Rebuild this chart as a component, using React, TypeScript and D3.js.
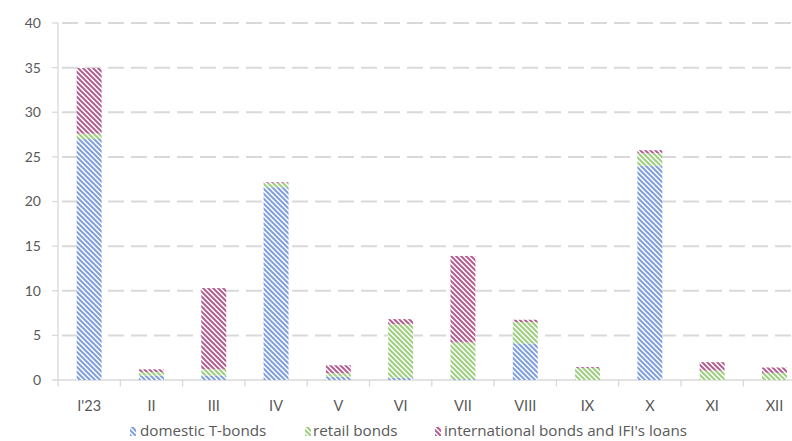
import React from "react";
import * as d3 from "d3";

const categories = ["I'23", "II", "III", "IV", "V", "VI", "VII", "VIII", "IX", "X", "XI", "XII"];
const domesticTBonds = [27.0, 0.5, 0.5, 21.6, 0.37, 0.25, 0.1, 4.1, 0, 24.0, 0, 0];
const retailBonds = [0.6, 0.4, 0.7, 0.45, 0.38, 6.0, 4.1, 2.4, 1.35, 1.4, 1.05, 0.8];
const intlBonds = [7.35, 0.3, 9.1, 0.1, 0.9, 0.57, 9.7, 0.25, 0.1, 0.35, 0.95, 0.6];
const yTicks = [0, 5, 10, 15, 20, 25, 30, 35, 40];

const seriesNames = ["domestic T-bonds", "retail bonds", "international bonds and IFI's loans"];
const seriesColors = ["#7f9fe0", "#9dcf7e", "#b25f90"];

const W = 792;
const H = 441;
const FONT = "Lato, 'Liberation Sans', sans-serif";
const LEGEND_FONT = "'Open Sans', Lato, sans-serif";

export default function App() {
  const x = d3.scaleBand<string>().domain(categories).range([58, 805.6]).paddingInner(0.6).paddingOuter(0.3);
  const y = d3.scaleLinear().domain([0, 40]).range([380, 23]);

  const rows = categories.map((c, i) => ({
    cat: c,
    s0: domesticTBonds[i],
    s1: retailBonds[i],
    s2: intlBonds[i],
  }));
  const stack = d3.stack<any>().keys(["s0", "s1", "s2"]);
  const layers = stack(rows);

  const boundaries = d3.range(categories.length + 1).map((i) => 58 + i * x.step());

  const legendItems = [
    { iconX: 130, textX: 140 },
    { iconX: 305, textX: 313 },
    { iconX: 435, textX: 444 },
  ];

  return (
    <svg
      width={W}
      height={H}
      style={{ position: "absolute", left: 0, top: 0, background: "#fff" }}
      fontFamily={FONT}
    >
      <defs>
        {seriesColors.map((col, i) => (
          <pattern key={i} id={`pat${i}`} patternUnits="userSpaceOnUse" width={5} height={5}>
            <rect width={5} height={5} fill="#fff" />
            <path
              d="M-1.25,3.75 l2.5,2.5 M0,0 l5,5 M3.75,-1.25 l2.5,2.5"
              stroke={col}
              strokeWidth={2}
            />
          </pattern>
        ))}
      </defs>
      <rect width={W} height={H} fill="#fff" />
      {/* gridlines */}
      {yTicks.map((t) =>
        t === 0 ? null : (
          <g key={t}>
            <line x1={52} x2={58} y1={y(t)} y2={y(t)} stroke="#d9d9d9" strokeWidth={1.3} />
            <line
              x1={62}
              x2={W}
              y1={y(t)}
              y2={y(t)}
              stroke="#d9d9d9"
              strokeWidth={2}
              strokeDasharray="16 7"
            />
          </g>
        )
      )}
      {/* y axis line */}
      <line x1={58} x2={58} y1={y(40)} y2={y(0)} stroke="#d9d9d9" strokeWidth={1.3} />
      {/* baseline */}
      <line x1={52} x2={W} y1={y(0)} y2={y(0)} stroke="#d9d9d9" strokeWidth={1.3} />
      {boundaries.map((bx, i) => (
        <line key={i} x1={bx} x2={bx} y1={y(0)} y2={y(0) + 6.5} stroke="#d9d9d9" strokeWidth={1.3} />
      ))}
      {/* y labels */}
      {yTicks.map((t) => (
        <text
          key={t}
          x={41}
          y={y(t)}
          dy="0.35em"
          textAnchor="end"
          fontSize={14}
          fill="#595959"
        >
          {t}
        </text>
      ))}
      {/* bars */}
      {layers.map((layer, li) => (
        <g key={li} fill={`url(#pat${li})`}>
          {layer.map((d, i) => {
            const h = y(d[0]) - y(d[1]);
            if (h <= 0) return null;
            return (
              <rect
                key={i}
                x={x(categories[i])}
                y={y(d[1])}
                width={x.bandwidth()}
                height={h}
              />
            );
          })}
        </g>
      ))}
      {/* x labels */}
      {categories.map((c) => (
        <text
          key={c}
          x={(x(c) as number) + x.bandwidth() / 2}
          y={406}
          dy="0.35em"
          textAnchor="middle"
          fontSize={14.5}
          fill="#595959"
        >
          {c}
        </text>
      ))}
      {/* legend */}
      {seriesNames.map((n, i) => (
        <g key={n}>
          <rect x={legendItems[i].iconX} y={427} width={6} height={9} fill={`url(#pat${i})`} />
          <text
            x={legendItems[i].textX}
            y={431}
            dy="0.35em"
            fontSize={15.2}
            fontFamily={LEGEND_FONT}
            fill="#595959"
          >
            {n}
          </text>
        </g>
      ))}
    </svg>
  );
}
